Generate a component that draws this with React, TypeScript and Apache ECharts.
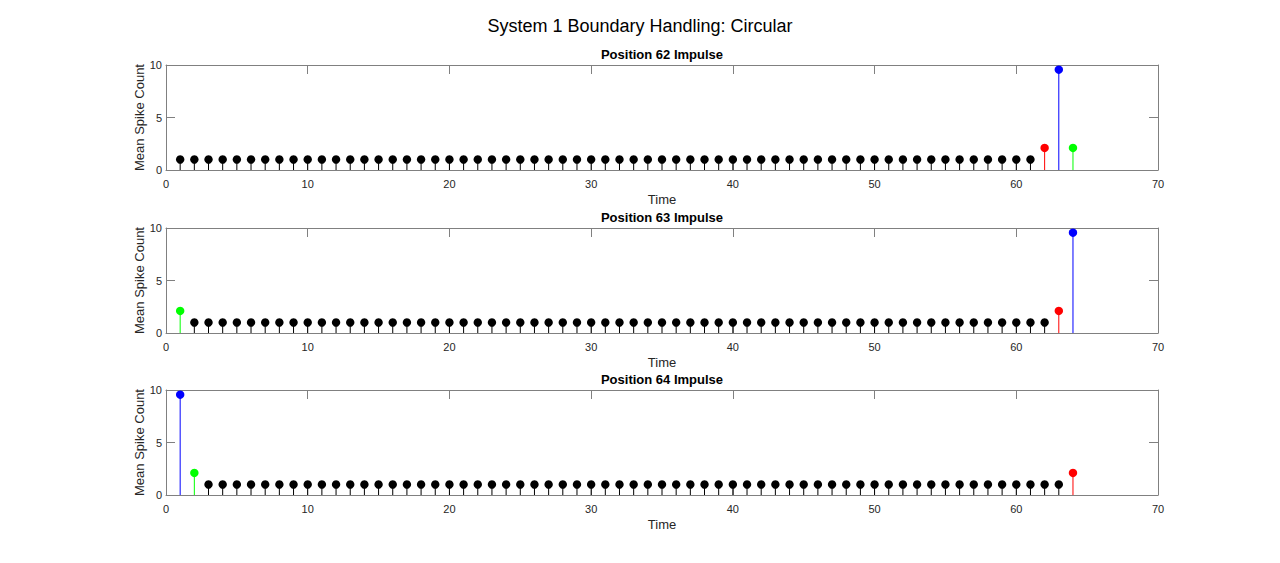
import React, { useEffect, useRef } from "react";
import * as echarts from "echarts";

const mainTitle = "System 1 Boundary Handling: Circular";
const panelTitles = ["Position 62 Impulse", "Position 63 Impulse", "Position 64 Impulse"];
const xLabel = "Time";
const yLabel = "Mean Spike Count";

const time = [
  1, 2, 3, 4, 5, 6, 7, 8, 9, 10,
  11, 12, 13, 14, 15, 16, 17, 18, 19, 20,
  21, 22, 23, 24, 25, 26, 27, 28, 29, 30,
  31, 32, 33, 34, 35, 36, 37, 38, 39, 40,
  41, 42, 43, 44, 45, 46, 47, 48, 49, 50,
  51, 52, 53, 54, 55, 56, 57, 58, 59, 60,
  61, 62, 63, 64,
];

const spikes62 = [
  1, 1, 1, 1, 1, 1, 1, 1, 1, 1,
  1, 1, 1, 1, 1, 1, 1, 1, 1, 1,
  1, 1, 1, 1, 1, 1, 1, 1, 1, 1,
  1, 1, 1, 1, 1, 1, 1, 1, 1, 1,
  1, 1, 1, 1, 1, 1, 1, 1, 1, 1,
  1, 1, 1, 1, 1, 1, 1, 1, 1, 1,
  1, 2.1, 9.55, 2.1,
];

const spikes63 = [
  2.1, 1, 1, 1, 1, 1, 1, 1, 1, 1,
  1, 1, 1, 1, 1, 1, 1, 1, 1, 1,
  1, 1, 1, 1, 1, 1, 1, 1, 1, 1,
  1, 1, 1, 1, 1, 1, 1, 1, 1, 1,
  1, 1, 1, 1, 1, 1, 1, 1, 1, 1,
  1, 1, 1, 1, 1, 1, 1, 1, 1, 1,
  1, 1, 2.1, 9.55,
];

const spikes64 = [
  9.55, 2.1, 1, 1, 1, 1, 1, 1, 1, 1,
  1, 1, 1, 1, 1, 1, 1, 1, 1, 1,
  1, 1, 1, 1, 1, 1, 1, 1, 1, 1,
  1, 1, 1, 1, 1, 1, 1, 1, 1, 1,
  1, 1, 1, 1, 1, 1, 1, 1, 1, 1,
  1, 1, 1, 1, 1, 1, 1, 1, 1, 1,
  1, 1, 1, 2.1,
];

const panelSpikes = [spikes62, spikes63, spikes64];
// time index of the impulse neuron and its circular neighbours in each panel
const impulseTime = [63, 64, 1];
const leftNeighbourTime = [62, 63, 64];
const rightNeighbourTime = [64, 1, 2];

const xTicks = [0, 10, 20, 30, 40, 50, 60, 70];
const yTicks = [0, 5, 10];

const COLORS = { base: "#000000", impulse: "#0000ff", left: "#ff0000", right: "#00ff00" };
const AXIS = "#808080";
const TEXT = "#262626";
const FONT = "'Liberation Sans', Arial, Helvetica, sans-serif";

const GRID_LEFT = 166;
const GRID_RIGHT = 122;
const GRID_TOPS = [65, 228, 390];
const GRID_H = 105;

function colorFor(panel: number, t: number) {
  if (t === impulseTime[panel]) return COLORS.impulse;
  if (t === leftNeighbourTime[panel]) return COLORS.left;
  if (t === rightNeighbourTime[panel]) return COLORS.right;
  return COLORS.base;
}

export default function App() {
  const ref = useRef<HTMLDivElement>(null);
  useEffect(() => {
    if (!ref.current) return;
    const chart = echarts.init(ref.current, null, { renderer: "svg" });

    const grids: any[] = [];
    const xAxes: any[] = [];
    const yAxes: any[] = [];
    const series: any[] = [];
    const titles: any[] = [
      {
        text: mainTitle,
        left: 635,
        top: 12,
        textAlign: "center",
        textStyle: { fontFamily: FONT, fontSize: 18, fontWeight: "normal", color: "#000" },
      },
    ];

    panelSpikes.forEach((vals, p) => {
      grids.push({
        left: GRID_LEFT,
        right: GRID_RIGHT,
        top: GRID_TOPS[p],
        height: GRID_H,
        containLabel: false,
        show: false,
      });
      titles.push({
        text: panelTitles[p],
        left: GRID_LEFT + (1280 - GRID_LEFT - GRID_RIGHT) / 2 - 5,
        top: GRID_TOPS[p] - 22,
        textAlign: "center",
        textStyle: { fontFamily: FONT, fontSize: 13, fontWeight: "bold", color: "#000" },
      });
      const common = {
        gridIndex: p,
        type: "value",
        splitLine: { show: false },
        axisLine: { show: true, onZero: false, lineStyle: { color: AXIS, width: 1 } },
        axisTick: { show: true, inside: true, length: 9, lineStyle: { color: AXIS } },
      };
      xAxes.push({
        ...common,
        position: "bottom",
        min: xTicks[0],
        max: xTicks[xTicks.length - 1],
        interval: xTicks[1] - xTicks[0],
        axisLabel: { color: TEXT, fontFamily: FONT, fontSize: 11, margin: 8 },
        name: xLabel,
        nameLocation: "middle",
        nameGap: 23,
        nameMoveOverlap: false,
        nameTextStyle: { color: TEXT, fontFamily: FONT, fontSize: 13 },
      });
      xAxes.push({
        ...common,
        position: "top",
        min: xTicks[0],
        max: xTicks[xTicks.length - 1],
        interval: xTicks[1] - xTicks[0],
        axisLabel: { show: false },
      });
      yAxes.push({
        ...common,
        position: "left",
        min: yTicks[0],
        max: yTicks[yTicks.length - 1],
        interval: yTicks[1] - yTicks[0],
        axisLabel: { color: TEXT, fontFamily: FONT, fontSize: 11, margin: 4 },
        name: yLabel,
        nameLocation: "middle",
        nameGap: 20,
        nameMoveOverlap: false,
        nameTextStyle: { color: TEXT, fontFamily: FONT, fontSize: 13 },
      });
      yAxes.push({
        ...common,
        position: "right",
        min: yTicks[0],
        max: yTicks[yTicks.length - 1],
        interval: yTicks[1] - yTicks[0],
        axisLabel: { show: false },
      });
      series.push({
        type: "custom",
        xAxisIndex: p * 2,
        yAxisIndex: p * 2,
        data: time.map((t, i) => [t, vals[i]]),
        encode: { x: 0, y: 1 },
        renderItem: (params: any, api: any) => {
          const t = api.value(0);
          const v = api.value(1);
          const base = api.coord([t, 0]);
          const top = api.coord([t, v]);
          const color = colorFor(p, t);
          return {
            type: "group",
            children: [
              {
                type: "line",
                shape: { x1: base[0], y1: base[1], x2: top[0], y2: top[1] },
                style: { stroke: color, lineWidth: 1 },
              },
              {
                type: "circle",
                shape: { cx: top[0], cy: top[1], r: 4.2 },
                style: { fill: color },
              },
            ],
          };
        },
      });
    });

    chart.setOption({
      animation: false,
      backgroundColor: "#ffffff",
      title: titles,
      grid: grids,
      xAxis: xAxes,
      yAxis: yAxes,
      series,
    });
    return () => chart.dispose();
  }, []);

  return (
    <div
      ref={ref}
      style={{ position: "fixed", left: 0, top: 0, width: 1280, height: 563, background: "#fff" }}
    />
  );
}
